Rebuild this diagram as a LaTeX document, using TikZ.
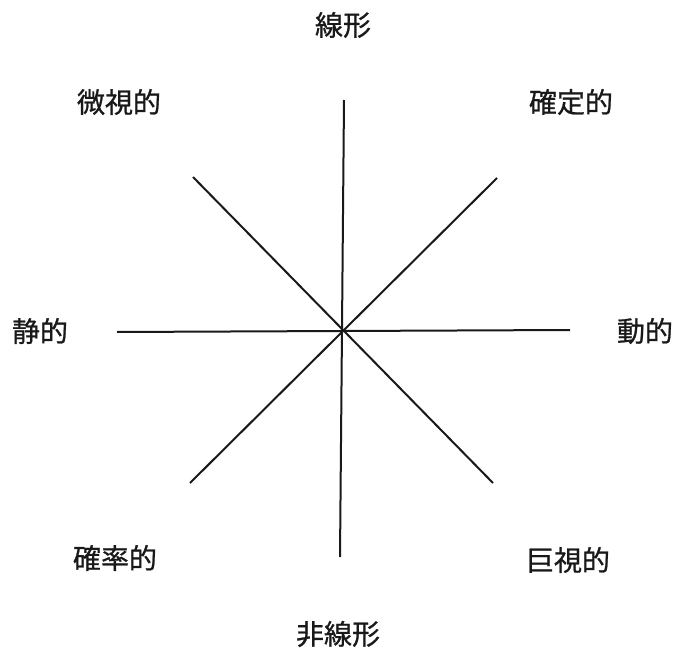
\documentclass[tikz,border=0pt]{standalone}
\usepackage{fontspec}
\newfontfamily\jpfont[FakeBold=0.8]{Noto Sans CJK JP}
\begin{document}
\begin{tikzpicture}[x=1pt,y=-1pt,
  lbl/.style={font=\jpfont\fontsize{28}{30}\selectfont, inner sep=0pt, text=black!90},
  axis/.style={line width=2pt, black!90}]
\useasboundingbox[fill=white] (0,0) rectangle (675,650);
% labels
\node[lbl] (lin) at (343,25) {線形};
\node[lbl] (nonlin) at (338,634) {非線形};
\node[lbl] (stat) at (40,331) {静的};
\node[lbl] (dyn) at (645,331) {動的};
\node[lbl] (micro) at (119,102) {微視的};
\node[lbl] (det) at (571,102) {確定的};
\node[lbl] (prob) at (115,558) {確率的};
\node[lbl] (macro) at (568,560) {巨視的};
% axis end points
\coordinate (vt) at (344,100);
\coordinate (vb) at (340,557);
\coordinate (hl) at (117,332);
\coordinate (hr) at (570,330);
\coordinate (ul) at (193,177);
\coordinate (lr) at (493,483);
\coordinate (ur) at (497,178);
\coordinate (ll) at (190,483);
\draw[axis] (vt) -- (vb);
\draw[axis] (hl) -- (hr);
\draw[axis] (ul) -- (lr);
\draw[axis] (ur) -- (ll);
\end{tikzpicture}
\end{document}
